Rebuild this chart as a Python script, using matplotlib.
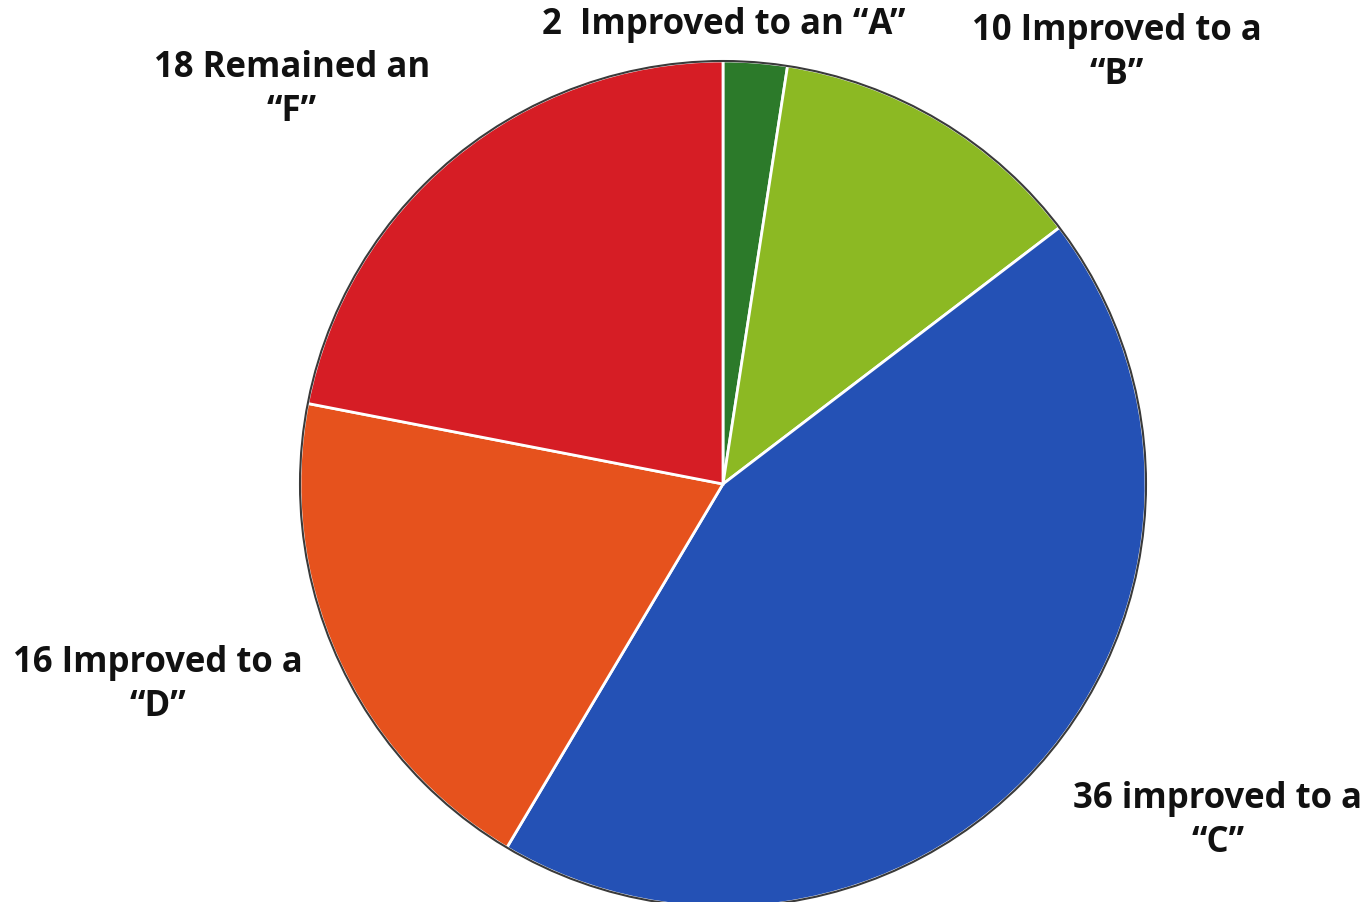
import matplotlib
matplotlib.use("Agg")
import matplotlib.pyplot as plt
from matplotlib.patches import Circle

# Grade outcomes, clockwise from the top
labels = ["2  Improved to an \u201cA\u201d", "10 Improved to a\n\u201cB\u201d",
          "36 improved to a\n\u201cC\u201d", "16 Improved to a\n\u201cD\u201d",
          "18 Remained an\n\u201cF\u201d"]
counts = [2, 10, 36, 16, 18]
colors = ["#2c7a2a", "#8cb923", "#2451b5", "#e6521d", "#d61d25"]

W, H = 1372, 903
fig = plt.figure(figsize=(W / 100, H / 100), dpi=100)
ax = fig.add_axes([0, 0, 1, 1])

cx, cy, r = 723, H - 485, 423
ax.pie(counts, colors=colors, startangle=90, counterclock=False,
       center=(cx, cy), radius=r, frame=True,
       wedgeprops=dict(edgecolor="white", linewidth=2.0))
ax.set_xlim(0, W)
ax.set_ylim(0, H)
ax.set_aspect("equal")
ax.axis("off")
ax.add_patch(Circle((cx, cy), r, fill=False, edgecolor="#3a3a3a", linewidth=1.5))

font = dict(family=["Open Sans", "DejaVu Sans"], fontweight="bold",
            fontsize=25, color="#111111", ha="center", va="center",
            linespacing=1.3)
ax.text(724, H - 25, labels[0], **font)
ax.text(1117, H - 53, labels[1], **font)
ax.text(1218, H - 821, labels[2], **font)
ax.text(158, H - 685, labels[3], **font)
ax.text(292, H - 90, labels[4], **font)

fig.savefig("out.png", dpi=100, facecolor="white")
